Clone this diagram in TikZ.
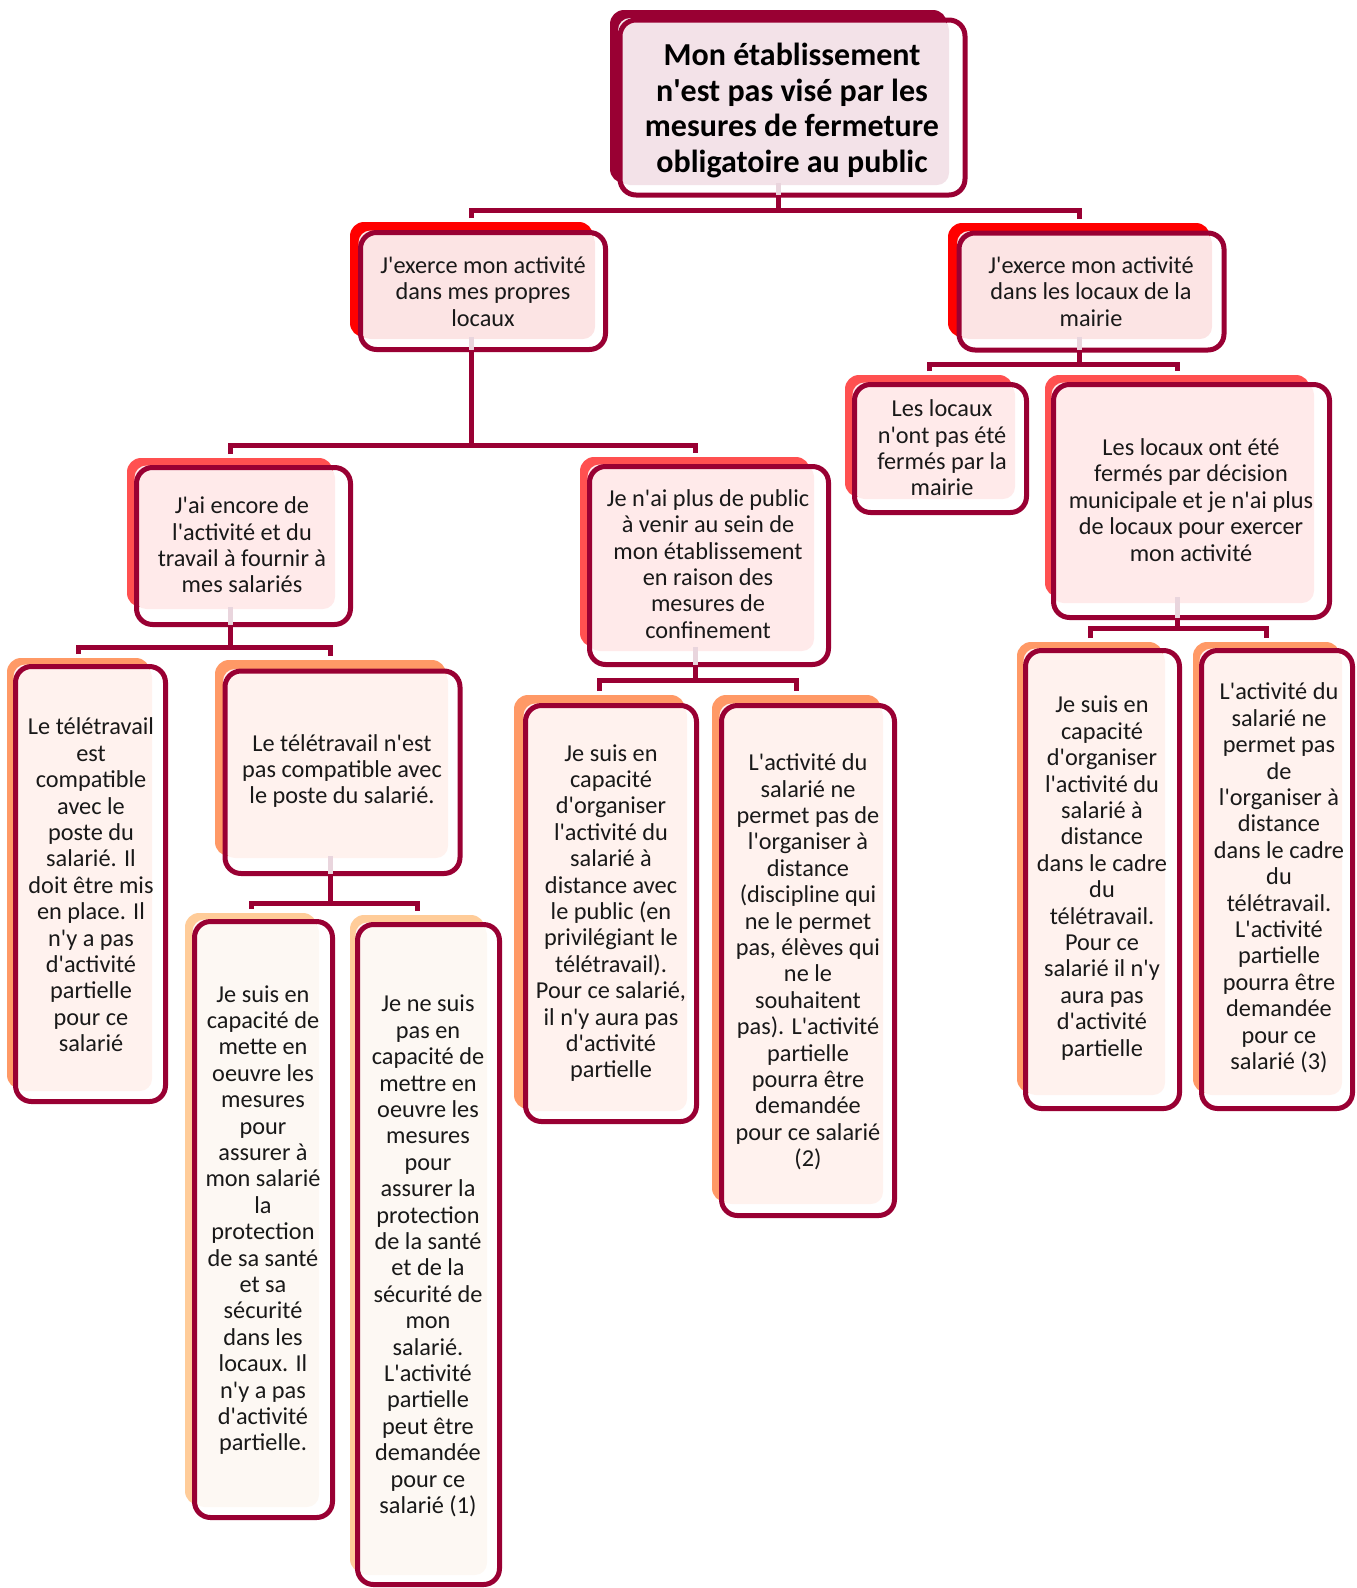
\documentclass[tikz,border=0pt]{standalone}
\usepackage{fontspec}
\setmainfont{Carlito}
\usetikzlibrary{fit}

\definecolor{frameRed}{HTML}{990033}
\definecolor{backTop}{HTML}{990033}
\definecolor{backRed}{HTML}{FF0000}
\definecolor{backCoral}{HTML}{FF5050}
\definecolor{backOrange}{HTML}{FF9966}
\definecolor{backPeach}{HTML}{FFCC99}
\definecolor{paleTop}{HTML}{F3E2E8}
\definecolor{paleRed}{HTML}{FCE4E4}
\definecolor{paleCoral}{HTML}{FFEAEA}
\definecolor{paleOrange}{HTML}{FFF2EE}
\definecolor{palePeach}{HTML}{FDF8F3}
\definecolor{seam}{HTML}{E9D5DD}

\newcommand\apo{\textquotesingle}

\tikzset{
  backbox/.style={inner sep=0pt, outer sep=0pt, rounded corners=14pt, draw=none},
  palebox/.style={inner sep=2pt, outer sep=0pt, rounded corners=12pt, draw=none},
  framebox/.style={inner sep=0pt, outer sep=0pt, draw=frameRed, line width=5pt, rounded corners=16pt},
  conn/.style={draw=frameRed, line width=5pt},
  seamline/.style={draw=seam, line width=5pt},
  txt/.style={align=center, inner sep=0pt, text=black!90, font=\fontsize{24.3}{26.4}\selectfont},
  toptxt/.style={align=center, inner sep=0pt, text=black, font=\bfseries\fontsize{32}{35.5}\selectfont}
}

\begin{document}
\begin{tikzpicture}[x=1pt, y=-1pt]
\useasboundingbox (0,0) rectangle (1357,1588);

% ---- boxes: coloured back plate, pale panel, outlined frame ----
% top
\node[backbox, fill=backTop, fit={(610,10) (947,183)}] (Ab) {};
\node[palebox, fill=paleTop, fit={(620,20) (947,183)}] (Ap) {};
\node[framebox, fit={(620,20) (965,195)}] (Ao) {};
\node[toptxt] (A) at (792,110.5) {Mon établissement\\n\apo{}est pas visé par les\\mesures de fermeture\\obligatoire au public};

% level 2
\node[backbox, fill=backRed, fit={(350,222) (593,337)}] (Bb) {};
\node[palebox, fill=paleRed, fit={(360.5,232.5) (593,337)}] (Bp) {};
\node[framebox, fit={(360.5,232.5) (605.5,349.5)}] (Bo) {};
\node[txt] (B) at (483,291.5) {J\apo{}exerce mon activité\\dans mes propres\\locaux};

\node[backbox, fill=backRed, fit={(948,223) (1210,337)}] (Cb) {};
\node[palebox, fill=paleRed, fit={(959,233) (1210,337)}] (Cp) {};
\node[framebox, fit={(959,233) (1224,350)}] (Co) {};
\node[txt] (C) at (1091,291.5) {J\apo{}exerce mon activité\\dans les locaux de la\\mairie};

% level 3
\node[backbox, fill=backCoral, fit={(127,458) (333,607)}] (Db) {};
\node[palebox, fill=paleCoral, fit={(136.5,467.5) (333,607)}] (Dp) {};
\node[framebox, fit={(136.5,467.5) (350.5,624.5)}] (Do) {};
\node[txt] (D) at (242,545) {J\apo{}ai encore de\\l\apo{}activité et du\\travail à fournir à\\mes salariés};

\node[backbox, fill=backCoral, fit={(580,457) (810,647)}] (Eb) {};
\node[palebox, fill=paleCoral, fit={(589.5,466.5) (812,649)}] (Ep) {};
\node[framebox, fit={(589.5,466.5) (828.5,664.5)}] (Eo) {};
\node[txt] (E) at (708,564) {Je n\apo{}ai plus de public\\à venir au sein de\\mon établissement\\en raison des\\mesures de\\confinement};

\node[backbox, fill=backCoral, fit={(845,375) (1013,497)}] (Fb) {};
\node[palebox, fill=paleCoral, fit={(854.5,384.5) (1013,497)}] (Fp) {};
\node[framebox, fit={(854.5,384.5) (1026.5,512.5)}] (Fo) {};
\node[txt] (F) at (942,448) {Les locaux\\n\apo{}ont pas été\\fermés par la\\mairie};

\node[backbox, fill=backCoral, fit={(1045,375) (1310,597)}] (Gb) {};
\node[palebox, fill=paleCoral, fit={(1053.5,384.5) (1312,601)}] (Gp) {};
\node[framebox, fit={(1053.5,384.5) (1329.5,617.5)}] (Go) {};
\node[txt] (G) at (1191,500) {Les locaux ont été\\fermés par décision\\municipale et je n\apo{}ai plus\\de locaux pour exercer\\mon activité};

% level 4
\node[backbox, fill=backOrange, fit={(7,658) (150,1089)}] (Hb) {};
\node[palebox, fill=paleOrange, fit={(15.5,666.5) (150,1089)}] (Hp) {};
\node[framebox, fit={(15.5,666.5) (165.5,1101.5)}] (Ho) {};
\node[txt] (H) at (91,885) {Le télétravail\\est\\compatible\\avec le\\poste du\\salarié. Il\\doit être mis\\en place. Il\\n\apo{}y a pas\\d\apo{}activité\\partielle\\pour ce\\salarié};

\node[backbox, fill=backOrange, fit={(215,660) (446,856)}] (Ib) {};
\node[palebox, fill=paleOrange, fit={(225,671) (446,856)}] (Ip) {};
\node[framebox, fit={(225,671) (460,873.5)}] (Io) {};
\node[txt] (I) at (342,771) {Le télétravail n\apo{}est\\pas compatible avec\\le poste du salarié.};

\node[backbox, fill=backOrange, fit={(514,695) (685,1109)}] (Jb) {};
\node[palebox, fill=paleOrange, fit={(525.5,705.5) (685,1109)}] (Jp) {};
\node[framebox, fit={(525.5,705.5) (696.5,1121.5)}] (Jo) {};
\node[txt] (J) at (611,913) {Je suis en\\capacité\\d\apo{}organiser\\l\apo{}activité du\\salarié à\\distance avec\\le public (en\\privilégiant le\\télétravail).\\Pour ce salarié,\\il n\apo{}y aura pas\\d\apo{}activité\\partielle};

\node[backbox, fill=backOrange, fit={(712,695) (881,1202)}] (Kb) {};
\node[palebox, fill=paleOrange, fit={(721.5,705.5) (881,1202)}] (Kp) {};
\node[framebox, fit={(721.5,705.5) (894.5,1215.5)}] (Ko) {};
\node[txt] (K) at (808,962) {L\apo{}activité du\\salarié ne\\permet pas de\\l\apo{}organiser à\\distance\\(discipline qui\\ne le permet\\pas, élèves qui\\ne le\\souhaitent\\pas). L\apo{}activité\\partielle\\pourra être\\demandée\\pour ce salarié\\(2)};

\node[backbox, fill=backOrange, fit={(1017,642) (1163,1093)}] (Lb) {};
\node[palebox, fill=paleOrange, fit={(1025.5,650.5) (1163,1093)}] (Lp) {};
\node[framebox, fit={(1025.5,650.5) (1179.5,1108.5)}] (Lo) {};
\node[txt] (L) at (1102,878) {Je suis en\\capacité\\d\apo{}organiser\\l\apo{}activité du\\salarié à\\distance\\dans le cadre\\du\\télétravail.\\Pour ce\\salarié il n\apo{}y\\aura pas\\d\apo{}activité\\partielle};

\node[backbox, fill=backOrange, fit={(1193,642) (1340,1093)}] (Mb) {};
\node[palebox, fill=paleOrange, fit={(1201.5,650.5) (1340,1093)}] (Mp) {};
\node[framebox, fit={(1201.5,650.5) (1352.5,1108.5)}] (Mo) {};
\node[txt] (M) at (1279,878) {L\apo{}activité du\\salarié ne\\permet pas\\de\\l\apo{}organiser à\\distance\\dans le cadre\\du\\télétravail.\\L\apo{}activité\\partielle\\pourra être\\demandée\\pour ce\\salarié (3)};

% level 5
\node[backbox, fill=backPeach, fit={(185,913) (317,1505)}] (Nb) {};
\node[palebox, fill=palePeach, fit={(194.5,921.5) (317,1505)}] (Np) {};
\node[framebox, fit={(194.5,921.5) (332.5,1517.5)}] (No) {};
\node[txt] (N) at (263,1220) {Je suis en\\capacité de\\mette en\\oeuvre les\\mesures\\pour\\assurer à\\mon salarié\\la\\protection\\de sa santé\\et sa\\sécurité\\dans les\\locaux. Il\\n\apo{}y a pas\\d\apo{}activité\\partielle.};

\node[backbox, fill=backPeach, fit={(350,915) (485,1573)}] (Ob) {};
\node[palebox, fill=palePeach, fit={(357.5,924.5) (485,1573)}] (Op) {};
\node[framebox, fit={(357.5,924.5) (499.5,1584.5)}] (Oo) {};
\node[txt] (O) at (428,1256) {Je ne suis\\pas en\\capacité de\\mettre en\\oeuvre les\\mesures\\pour\\assurer la\\protection\\de la santé\\et de la\\sécurité de\\mon\\salarié.\\L\apo{}activité\\partielle\\peut être\\demandée\\pour ce\\salarié (1)};

% ---- connectors ----
\coordinate (busA) at (0,210.6);
\coordinate (busB) at (0,445.6);
\coordinate (busC) at (0,364);
\coordinate (busD) at (0,647);
\coordinate (busE) at (0,680);
\coordinate (busG) at (0,628);
\coordinate (busI) at (0,903);

\foreach \p in {A,B,C,D,E,G,I}
  \draw[seamline] (\p b.south) -- (\p b.south |- \p o.south);

\draw[conn] (Ab.south |- Ao.south) -- (Ab.south |- busA);
\draw[conn] ([yshift=4pt]Bb.north) |- (Ab.south |- busA) -| ([yshift=4pt]Cb.north);

\draw[conn] (Bb.south |- Bo.south) -- (Bb.south |- busB);
\draw[conn] ([yshift=4pt]Db.north) |- (Bb.south |- busB) -| ([yshift=4pt]Eb.north);

\draw[conn] (Cb.south |- Co.south) -- (Cb.south |- busC);
\draw[conn] ([yshift=4pt]Fb.north) |- (Cb.south |- busC) -| ([yshift=4pt]Gb.north);

\draw[conn] (Db.south |- Do.south) -- (Db.south |- busD);
\draw[conn] ([yshift=4pt]Hb.north) |- (Db.south |- busD) -| ([yshift=4pt]Ib.north);

\draw[conn] (Eb.south |- Eo.south) -- (Eb.south |- busE);
\draw[conn] ([yshift=4pt]Jb.north) |- (Eb.south |- busE) -| ([yshift=4pt]Kb.north);

\draw[conn] (Gb.south |- Go.south) -- (Gb.south |- busG);
\draw[conn] ([yshift=4pt]Lb.north) |- (Gb.south |- busG) -| ([yshift=4pt]Mb.north);

\draw[conn] (Ib.south |- Io.south) -- (Ib.south |- busI);
\draw[conn] ([yshift=4pt]Nb.north) |- (Ib.south |- busI) -| ([yshift=4pt]Ob.north);
\end{tikzpicture}
\end{document}
